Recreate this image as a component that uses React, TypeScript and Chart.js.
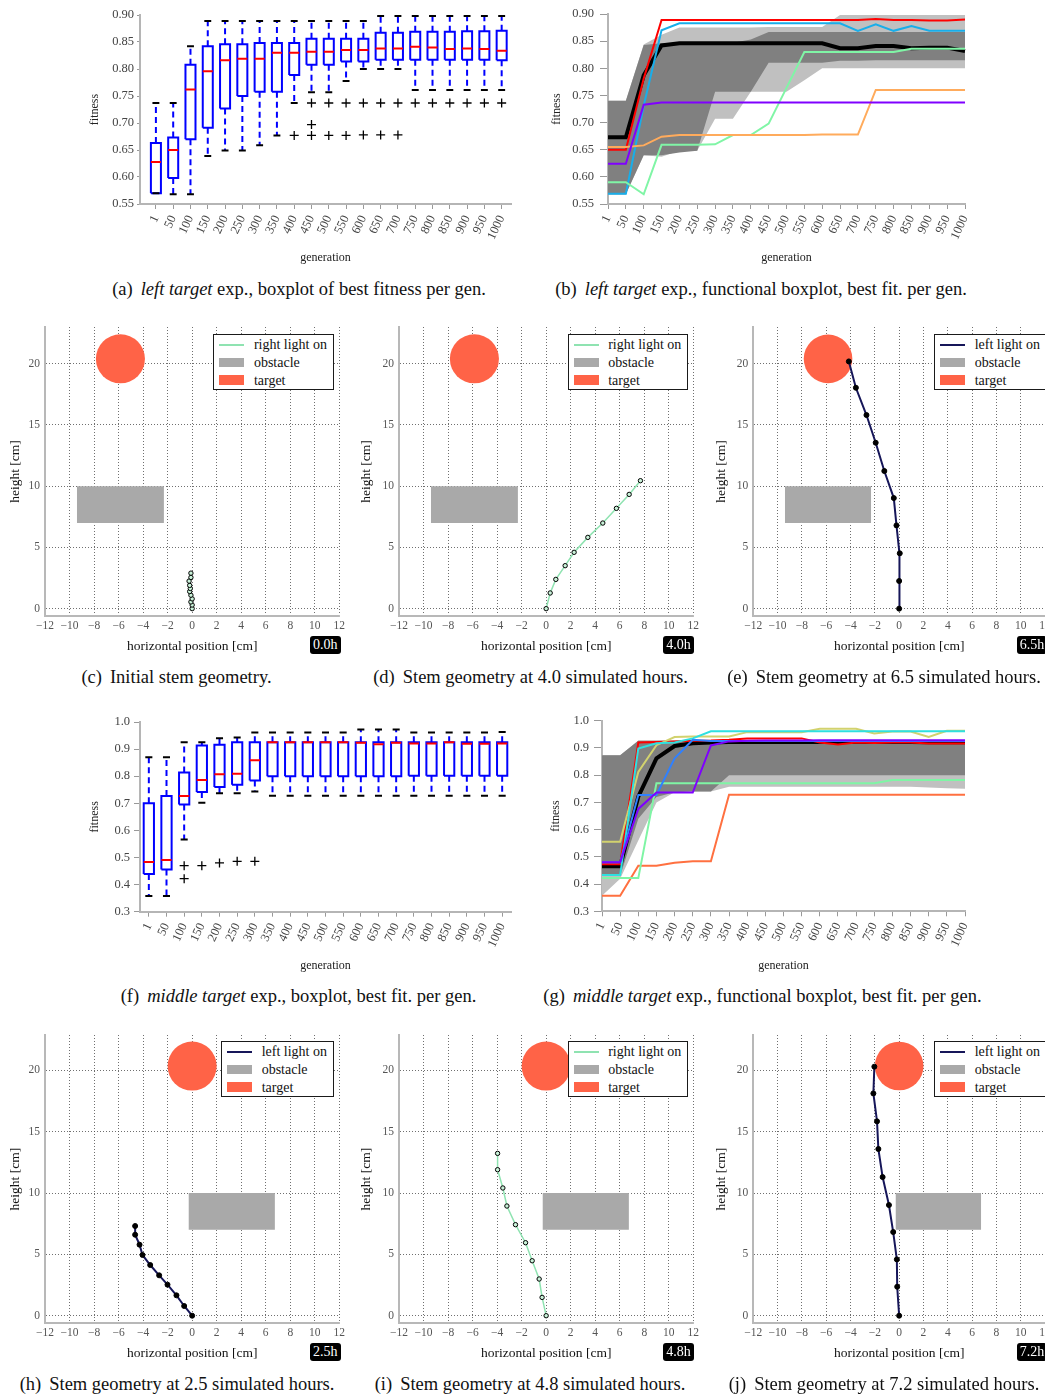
import React, { useEffect, useRef } from "react";
import { Chart, registerables } from "chart.js";

Chart.register(...registerables);

const SERIF = "'Liberation Serif', 'Times New Roman', serif";
Chart.defaults.font.family = SERIF;

// ---------------- shared categories ----------------
const GENERATIONS = [1, 50, 100, 150, 200, 250, 300, 350, 400, 450, 500, 550, 600, 650, 700, 750, 800, 850, 900, 950, 1000];
const GEN_LABELS = GENERATIONS.map(String);

// ---------------- (a) left target boxplot ----------------
const A_Q1 = [0.570, 0.598, 0.670, 0.691, 0.727, 0.750, 0.758, 0.758, 0.789, 0.808, 0.808, 0.814, 0.814, 0.817, 0.817, 0.817, 0.817, 0.817, 0.817, 0.817, 0.816];
const A_Q3 = [0.663, 0.673, 0.808, 0.842, 0.846, 0.846, 0.848, 0.848, 0.848, 0.856, 0.856, 0.856, 0.856, 0.867, 0.867, 0.869, 0.869, 0.869, 0.870, 0.870, 0.871];
const A_MED = [0.628, 0.650, 0.762, 0.796, 0.816, 0.819, 0.819, 0.830, 0.830, 0.832, 0.832, 0.835, 0.835, 0.838, 0.838, 0.841, 0.840, 0.837, 0.838, 0.837, 0.834];
const A_HI = [0.737, 0.737, 0.842, 0.889, 0.889, 0.889, 0.889, 0.889, 0.889, 0.889, 0.889, 0.889, 0.889, 0.898, 0.898, 0.898, 0.898, 0.898, 0.898, 0.898, 0.898];
const A_LO = [0.570, 0.568, 0.568, 0.639, 0.649, 0.649, 0.659, 0.677, 0.737, 0.757, 0.757, 0.778, 0.800, 0.800, 0.800, 0.761, 0.761, 0.761, 0.761, 0.761, 0.761];
const A_OUT_IDX = [8, 9, 9, 9, 10, 10, 11, 11, 12, 12, 13, 13, 14, 14, 15, 16, 17, 18, 19, 20];
const A_OUT_VAL = [0.677, 0.737, 0.697, 0.677, 0.737, 0.677, 0.737, 0.677, 0.737, 0.678, 0.737, 0.678, 0.737, 0.678, 0.737, 0.737, 0.737, 0.737, 0.737, 0.737];

// ---------------- (b) left target functional boxplot ----------------
const B_LIGHT_UP = [0.740, 0.740, 0.844, 0.862, 0.875, 0.875, 0.875, 0.875, 0.875, 0.876, 0.876, 0.876, 0.876, 0.898, 0.898, 0.898, 0.898, 0.898, 0.898, 0.898, 0.898];
const B_LIGHT_LO = [0.568, 0.568, 0.640, 0.637, 0.648, 0.648, 0.707, 0.707, 0.757, 0.757, 0.757, 0.778, 0.800, 0.800, 0.800, 0.800, 0.800, 0.800, 0.800, 0.800, 0.800];
const B_DARK_UP = [0.740, 0.740, 0.843, 0.846, 0.847, 0.847, 0.847, 0.847, 0.853, 0.867, 0.867, 0.867, 0.867, 0.867, 0.867, 0.867, 0.867, 0.867, 0.867, 0.867, 0.867];
const B_DARK_LO = [0.568, 0.568, 0.640, 0.640, 0.645, 0.648, 0.757, 0.757, 0.757, 0.810, 0.810, 0.810, 0.810, 0.814, 0.814, 0.815, 0.815, 0.815, 0.815, 0.815, 0.815];
const B_MEDIAN = [0.673, 0.673, 0.787, 0.842, 0.846, 0.846, 0.846, 0.846, 0.846, 0.846, 0.846, 0.846, 0.846, 0.837, 0.837, 0.841, 0.841, 0.837, 0.838, 0.838, 0.832];
const B_RED = [0.650, 0.650, 0.781, 0.889, 0.889, 0.889, 0.889, 0.889, 0.889, 0.889, 0.889, 0.889, 0.889, 0.889, 0.889, 0.891, 0.889, 0.889, 0.888, 0.888, 0.890];
const B_BLUE = [0.569, 0.569, 0.731, 0.870, 0.883, 0.883, 0.883, 0.883, 0.883, 0.883, 0.883, 0.883, 0.883, 0.883, 0.869, 0.881, 0.869, 0.878, 0.869, 0.869, 0.869];
const B_GREEN = [0.590, 0.590, 0.568, 0.659, 0.659, 0.659, 0.660, 0.677, 0.677, 0.698, 0.764, 0.830, 0.830, 0.830, 0.830, 0.830, 0.830, 0.836, 0.836, 0.836, 0.836];
const B_ORANGE = [0.655, 0.655, 0.658, 0.674, 0.677, 0.677, 0.677, 0.677, 0.677, 0.677, 0.677, 0.677, 0.678, 0.678, 0.678, 0.760, 0.760, 0.760, 0.760, 0.760, 0.760];
const B_PURPLE = [0.624, 0.624, 0.733, 0.737, 0.737, 0.737, 0.737, 0.737, 0.737, 0.737, 0.737, 0.737, 0.737, 0.737, 0.737, 0.737, 0.737, 0.737, 0.737, 0.737, 0.737];

// ---------------- (f) middle target boxplot ----------------
const F_Q1 = [0.439, 0.456, 0.696, 0.742, 0.760, 0.768, 0.784, 0.800, 0.800, 0.800, 0.800, 0.800, 0.800, 0.800, 0.800, 0.802, 0.802, 0.802, 0.802, 0.802, 0.802];
const F_Q3 = [0.700, 0.727, 0.814, 0.913, 0.916, 0.925, 0.925, 0.925, 0.925, 0.925, 0.925, 0.925, 0.925, 0.925, 0.925, 0.925, 0.925, 0.925, 0.925, 0.925, 0.925];
const F_MED = [0.483, 0.491, 0.727, 0.786, 0.807, 0.809, 0.859, 0.925, 0.925, 0.925, 0.925, 0.925, 0.923, 0.918, 0.923, 0.921, 0.921, 0.925, 0.920, 0.920, 0.921];
const F_HI = [0.870, 0.870, 0.925, 0.925, 0.940, 0.943, 0.961, 0.961, 0.961, 0.961, 0.961, 0.961, 0.972, 0.972, 0.972, 0.961, 0.961, 0.961, 0.961, 0.961, 0.963];
const F_LO = [0.358, 0.358, 0.566, 0.702, 0.737, 0.737, 0.744, 0.728, 0.728, 0.728, 0.728, 0.728, 0.728, 0.728, 0.728, 0.728, 0.728, 0.728, 0.728, 0.728, 0.728];
const F_OUT_IDX = [2, 2, 3, 4, 5, 6];
const F_OUT_VAL = [0.470, 0.422, 0.470, 0.480, 0.486, 0.486];

// ---------------- (g) middle target functional boxplot ----------------
const G_LIGHT_UP = [0.873, 0.873, 0.927, 0.927, 0.927, 0.927, 0.927, 0.927, 0.927, 0.927, 0.927, 0.927, 0.927, 0.927, 0.927, 0.927, 0.927, 0.927, 0.927, 0.927, 0.927];
const G_LIGHT_LO = [0.357, 0.420, 0.560, 0.700, 0.737, 0.740, 0.740, 0.757, 0.757, 0.757, 0.757, 0.757, 0.757, 0.757, 0.757, 0.757, 0.757, 0.757, 0.755, 0.752, 0.750];
const G_DARK_UP = [0.873, 0.873, 0.926, 0.926, 0.926, 0.926, 0.926, 0.926, 0.926, 0.926, 0.926, 0.926, 0.926, 0.926, 0.926, 0.926, 0.926, 0.926, 0.926, 0.926, 0.926];
const G_DARK_LO = [0.430, 0.430, 0.640, 0.720, 0.737, 0.740, 0.740, 0.800, 0.800, 0.800, 0.800, 0.800, 0.800, 0.800, 0.800, 0.800, 0.800, 0.800, 0.800, 0.800, 0.800];
const G_MEDIAN = [0.465, 0.465, 0.721, 0.862, 0.907, 0.917, 0.920, 0.922, 0.922, 0.922, 0.922, 0.922, 0.922, 0.922, 0.922, 0.922, 0.922, 0.922, 0.921, 0.921, 0.921];
const G_RED = [0.473, 0.473, 0.920, 0.922, 0.924, 0.926, 0.927, 0.930, 0.935, 0.935, 0.935, 0.935, 0.920, 0.913, 0.920, 0.918, 0.920, 0.920, 0.916, 0.916, 0.916];
const G_CYAN = [0.433, 0.433, 0.898, 0.917, 0.920, 0.935, 0.961, 0.961, 0.961, 0.961, 0.961, 0.961, 0.961, 0.961, 0.961, 0.961, 0.961, 0.961, 0.961, 0.961, 0.961];
const G_KHAKI = [0.555, 0.555, 0.812, 0.910, 0.940, 0.942, 0.942, 0.942, 0.958, 0.958, 0.958, 0.958, 0.970, 0.970, 0.970, 0.953, 0.960, 0.960, 0.940, 0.963, 0.963];
const G_BLUE = [0.480, 0.480, 0.727, 0.727, 0.862, 0.930, 0.925, 0.925, 0.925, 0.925, 0.925, 0.925, 0.925, 0.925, 0.925, 0.925, 0.925, 0.925, 0.925, 0.925, 0.925];
const G_PURPLE = [0.480, 0.480, 0.676, 0.736, 0.736, 0.736, 0.909, 0.924, 0.926, 0.927, 0.927, 0.927, 0.928, 0.928, 0.928, 0.928, 0.928, 0.928, 0.928, 0.928, 0.928];
const G_GREEN = [0.422, 0.422, 0.422, 0.770, 0.770, 0.770, 0.770, 0.770, 0.770, 0.770, 0.770, 0.770, 0.770, 0.770, 0.770, 0.770, 0.782, 0.782, 0.782, 0.782, 0.782];
const G_ORANGE = [0.357, 0.357, 0.467, 0.467, 0.478, 0.484, 0.484, 0.728, 0.728, 0.728, 0.728, 0.728, 0.728, 0.728, 0.728, 0.728, 0.728, 0.728, 0.728, 0.728, 0.728];

// ---------------- stem geometries (cm) ----------------
const C_X = [0, 0, -0.1, 0, -0.1, -0.2, -0.15, -0.2, -0.25, -0.1, -0.1];
const C_Y = [0, 0.3, 0.55, 0.8, 1.1, 1.4, 1.65, 1.9, 2.25, 2.55, 2.9];
const D_X = [0, 0.33, 0.79, 1.55, 2.28, 3.40, 4.62, 5.73, 6.77, 7.69];
const D_Y = [0, 1.28, 2.39, 3.51, 4.60, 5.82, 6.99, 8.19, 9.33, 10.45];
const E_X = [0, 0, 0.05, -0.22, -0.44, -1.22, -1.93, -2.69, -3.56, -4.14];
const E_Y = [0, 2.26, 4.52, 6.80, 9.03, 11.24, 13.55, 15.81, 18.04, 20.19];
const H_X = [0, -0.65, -1.28, -2.01, -2.69, -3.42, -4.05, -4.29, -4.65, -4.65];
const H_Y = [0, 0.79, 1.66, 2.53, 3.29, 4.13, 4.95, 5.79, 6.60, 7.31];
const I_X = [0, -0.33, -0.57, -1.14, -1.68, -2.50, -3.20, -3.53, -3.96, -3.96];
const I_Y = [0, 1.49, 2.99, 4.48, 5.95, 7.42, 8.94, 10.41, 11.90, 13.23];
const J_X = [0, -0.16, -0.19, -0.49, -0.84, -1.36, -1.71, -1.82, -2.12, -2.04];
const J_Y = [0, 2.36, 4.59, 6.82, 9.02, 11.30, 13.59, 15.84, 18.12, 20.30];

const TARGET_LEFT = { x: -5.85, y: 20.4 };
const TARGET_MIDDLE = { x: 0, y: 20.35 };
const TARGET_RADIUS = 2.0;
const OBSTACLE_LEFT_X = [-9.4, -2.3];
const OBSTACLE_MIDDLE_X = [-0.3, 6.75];
const OBSTACLE_Y = [7, 10];

const TARGET_COLOR = "#ff6347";
const OBSTACLE_COLOR = "#a9a9a9";
const RIGHT_LIGHT_COLOR = "#8fe3b1";
const LEFT_LIGHT_COLOR = "#161659";

// ---------------- helpers ----------------
const minusFmt = (v: number) => (v < 0 ? "\u2212" + Math.abs(v) : String(v));

const zeroPad = (s: any) => {
  s.paddingTop = 0;
  s.paddingBottom = 0;
  s.paddingLeft = 0;
  s.paddingRight = 0;
};

function ChartCanvas({ left, top, width, height, make }: any) {
  const ref = useRef<HTMLCanvasElement | null>(null);
  useEffect(() => {
    if (!ref.current) return;
    const chart = new Chart(ref.current, make());
    return () => chart.destroy();
  }, []);
  return (
    <canvas
      ref={ref}
      width={width}
      height={height}
      style={{ position: "absolute", left, top, width, height }}
    />
  );
}

function fitnessY(min: number, max: number, step: number, dec: number, width: number, tickLen: number, tickPad: number, titlePad: number) {
  return {
    type: "linear",
    min,
    max,
    afterFit: (s: any) => {
      s.width = width;
      zeroPad(s);
    },
    ticks: {
      stepSize: step,
      callback: (v: any) => Number(v).toFixed(dec),
      font: { size: 12.5 },
      color: "#444",
      padding: tickPad,
    },
    grid: { display: true, drawOnChartArea: false, drawTicks: true, tickLength: tickLen, tickColor: "#999", color: "#999" },
    border: { display: true, color: "#b5b5b5", width: 2 },
    title: { display: true, text: "fitness", font: { size: 12 }, color: "#222", padding: { top: titlePad, bottom: 0 } },
  };
}

function generationX(base: any, height: number, titlePad: number) {
  return {
    ...base,
    afterFit: (s: any) => {
      s.height = height;
      zeroPad(s);
    },
    ticks: {
      autoSkip: false,
      minRotation: 65,
      maxRotation: 65,
      font: { size: 12.5 },
      color: "#444",
      padding: 4,
      ...(base.ticks || {}),
    },
    grid: { display: true, drawOnChartArea: false, drawTicks: true, tickLength: 5, tickColor: "#999", color: "#999" },
    border: { display: true, color: "#b5b5b5", width: 2 },
    title: { display: true, text: "generation", font: { size: 12 }, color: "#222", padding: { top: 0, bottom: titlePad } },
  };
}

function boxplotConfig(p: any) {
  const W = 0.29;
  const C = 0.2;
  const boxes = p.q1.flatMap((q1: number, i: number) => [
    { x: i - W, y: q1 },
    { x: i + W, y: q1 },
    { x: i + W, y: p.q3[i] },
    { x: i - W, y: p.q3[i] },
    { x: i - W, y: q1 },
    { x: i, y: null },
  ]);
  const medians = p.med.flatMap((m: number, i: number) => [
    { x: i - W, y: m },
    { x: i + W, y: m },
    { x: i, y: null },
  ]);
  const whiskers = p.q1.flatMap((q1: number, i: number) => [
    { x: i, y: p.q3[i] },
    { x: i, y: p.hi[i] },
    { x: i, y: null },
    { x: i, y: q1 },
    { x: i, y: p.lo[i] },
    { x: i, y: null },
  ]);
  const caps = p.hi.flatMap((h: number, i: number) => [
    { x: i - C, y: h },
    { x: i + C, y: h },
    { x: i, y: null },
    { x: i - C, y: p.lo[i] },
    { x: i + C, y: p.lo[i] },
    { x: i, y: null },
  ]);
  const outliers = p.outIdx.map((i: number, k: number) => ({ x: i, y: p.outVal[k] }));
  const seg = (data: any[], color: string, width: number, dash: number[] = []) => ({
    type: "line",
    data,
    borderColor: color,
    borderWidth: width,
    borderDash: dash,
    pointRadius: 0,
    fill: false,
    spanGaps: false,
    tension: 0,
  });
  return {
    type: "scatter",
    data: {
      datasets: [
        {
          type: "scatter",
          data: outliers,
          pointStyle: "cross",
          pointRadius: 4.5,
          pointBorderColor: "#000",
          pointBorderWidth: 1.3,
          pointBackgroundColor: "#000",
        },
        seg(medians, "#ff0000", 2),
        seg(caps, "#000000", 2),
        seg(boxes, "#0000ff", 2),
        seg(whiskers, "#0000ff", 2, [6, 4]),
      ],
    },
    options: {
      animation: false,
      responsive: false,
      devicePixelRatio: 1,
      events: [],
      layout: { padding: { top: p.padTop, right: p.padRight, bottom: 0, left: 0 } },
      plugins: { legend: { display: false }, tooltip: { enabled: false } },
      scales: {
        x: generationX(
          {
            type: "linear",
            min: p.xMin,
            max: p.xMax,
            bounds: "data",
            afterBuildTicks: (s: any) => {
              s.ticks = GENERATIONS.map((_, i) => ({ value: i }));
            },
            ticks: { callback: (v: any) => GEN_LABELS[Math.round(Number(v))] ?? "" },
          },
          p.xHeight,
          p.xTitlePad
        ),
        y: fitnessY(p.yMin, p.yMax, p.yStep, p.yDec, p.yWidth, p.yTickLen, p.yTickPad, p.yTitlePad),
      },
    },
  };
}

function functionalConfig(p: any) {
  const line = (data: number[], color: string, width: number) => ({
    data,
    borderColor: color,
    borderWidth: width,
    pointRadius: 0,
    fill: false,
    tension: 0,
  });
  const band = (data: number[], fill: any, color: string) => ({
    data,
    borderWidth: 0,
    borderColor: "rgba(0,0,0,0)",
    pointRadius: 0,
    fill,
    backgroundColor: color,
    tension: 0,
  });
  return {
    type: "line",
    data: {
      labels: GEN_LABELS,
      datasets: [
        ...p.lines.map((l: any) => line(l.data, l.color, 2)),
        line(p.median, "#000000", 4),
        band(p.darkUp, "+1", "#808080"),
        band(p.darkLo, false, "#808080"),
        band(p.lightUp, "+1", "#c0c0c0"),
        band(p.lightLo, false, "#c0c0c0"),
      ],
    },
    options: {
      animation: false,
      responsive: false,
      devicePixelRatio: 1,
      events: [],
      layout: { padding: { top: p.padTop, right: p.padRight, bottom: 0, left: 0 } },
      plugins: { legend: { display: false }, tooltip: { enabled: false } },
      scales: {
        x: generationX({ type: "category", offset: false }, p.xHeight, p.xTitlePad),
        y: fitnessY(p.yMin, p.yMax, p.yStep, p.yDec, p.yWidth, p.yTickLen, p.yTickPad, p.yTitlePad),
      },
    },
  };
}

function geometryConfig(g: any) {
  const right = g.light === "right";
  const stem = g.xs.map((x: number, i: number) => ({ x, y: g.ys[i] }));
  return {
    type: "scatter",
    data: {
      datasets: [
        {
          type: "line",
          label: right ? "right light on" : "left light on",
          data: stem,
          borderColor: right ? RIGHT_LIGHT_COLOR : LEFT_LIGHT_COLOR,
          borderWidth: right ? 1.5 : 2,
          pointRadius: right ? 2.2 : 2.5,
          pointBackgroundColor: right ? "#c9f2d9" : "#000",
          pointBorderColor: "#000",
          pointBorderWidth: 1,
          fill: false,
          tension: 0,
        },
        {
          type: "scatter",
          label: "target",
          data: [g.target],
          pointRadius: (ctx: any) => {
            const s = ctx.chart.scales.x;
            return s ? Math.abs(s.getPixelForValue(TARGET_RADIUS) - s.getPixelForValue(0)) : 0;
          },
          pointBackgroundColor: TARGET_COLOR,
          pointBorderColor: TARGET_COLOR,
          pointBorderWidth: 0,
        },
        {
          type: "line",
          label: "obstacle",
          data: [
            { x: g.obstacleX[0], y: OBSTACLE_Y[1] },
            { x: g.obstacleX[1], y: OBSTACLE_Y[1] },
          ],
          fill: { value: OBSTACLE_Y[0] },
          backgroundColor: OBSTACLE_COLOR,
          borderWidth: 0,
          pointRadius: 0,
          tension: 0,
        },
      ],
    },
    options: {
      animation: false,
      responsive: false,
      devicePixelRatio: 1,
      events: [],
      layout: { padding: { top: g.padTop, right: g.padRight, bottom: 0, left: 0 } },
      plugins: { legend: { display: false }, tooltip: { enabled: false } },
      scales: {
        x: {
          type: "linear",
          min: -12,
          max: 12,
          z: 1,
          afterFit: (s: any) => {
            s.height = g.xHeight;
            zeroPad(s);
          },
          ticks: { stepSize: 2, includeBounds: false, callback: (v: any) => minusFmt(Number(v)), font: { size: 11.5 }, color: "#555", padding: 3 },
          grid: { display: true, drawOnChartArea: true, drawTicks: false, color: "#4a4a4a", lineWidth: 0.8 },
          border: { display: true, color: "#b8b8b8", width: 2, dash: [1, 2] },
          title: { display: true, text: "horizontal position [cm]", font: { size: 13.5 }, color: "#111", padding: { top: 0, bottom: g.xTitlePad } },
        },
        y: {
          type: "linear",
          min: g.yMin,
          max: g.yMax,
          z: 1,
          afterFit: (s: any) => {
            s.width = g.yWidth;
            zeroPad(s);
          },
          ticks: { stepSize: 5, includeBounds: false, font: { size: 11.5 }, color: "#555", padding: 5 },
          grid: { display: true, drawOnChartArea: true, drawTicks: false, color: "#4a4a4a", lineWidth: 0.8 },
          border: { display: true, color: "#b8b8b8", width: 2, dash: [1, 2] },
          title: { display: true, text: "height [cm]", font: { size: 13.5 }, color: "#111", padding: { top: g.yTitlePad, bottom: 0 } },
        },
      },
    },
  };
}

function GeoLegend({ top, rightX, label, color, thick }: any) {
  const rows = [
    { text: label, h: thick ? 2 : 1.5, c: color },
    { text: "obstacle", h: 9.5, c: OBSTACLE_COLOR },
    { text: "target", h: 9.5, c: TARGET_COLOR },
  ];
  return (
    <div
      style={{
        position: "absolute",
        top,
        right: 1045 - rightX,
        height: 56,
        boxSizing: "border-box",
        border: "1.5px solid #1a1a1a",
        background: "#fff",
        padding: "1px 6px 0 5px",
        whiteSpace: "nowrap",
      }}
    >
      {rows.map((r) => (
        <div key={r.text} style={{ display: "flex", alignItems: "center", height: 17.7 }}>
          <div style={{ width: 25, height: r.h, background: r.c, marginRight: 9.5, flex: "none" }} />
          <span style={{ fontSize: 14, lineHeight: "17px", color: "#111" }}>{r.text}</span>
        </div>
      ))}
    </div>
  );
}

function Badge({ left, top, text }: any) {
  return (
    <div
      style={{
        position: "absolute",
        left,
        top,
        height: 18,
        padding: "0 3px",
        background: "#000",
        color: "#fff",
        borderRadius: 3,
        fontSize: 14,
        lineHeight: "18px",
        whiteSpace: "nowrap",
      }}
    >
      {text}
    </div>
  );
}

function Caption({ cx, cy, tag, italic, rest }: any) {
  return (
    <div
      style={{
        position: "absolute",
        left: cx,
        top: cy - 11,
        transform: "translateX(-50%)",
        whiteSpace: "nowrap",
        fontSize: 18.5,
        lineHeight: "22px",
        color: "#111",
      }}
    >
      <span style={{ marginRight: 8 }}>{tag}</span>
      {italic ? <i>{italic}</i> : null}
      {rest}
    </div>
  );
}

const GEO_ROW1 = { top: 320, yMin: -0.6, yMax: 23, padTop: 7, xHeight: 44, xTitlePad: 5.2 };
const GEO_ROW2 = { top: 1030, yMin: -0.62, yMax: 22.88, padTop: 5, xHeight: 46.7, xTitlePad: 8.6 };
const GEO_COL = [
  { left: 0, yWidth: 45, padRight: 10.7, yTitlePad: 6.9 },
  { left: 350, yWidth: 49, padRight: 6.7, yTitlePad: 8.2 },
  { left: 700, yWidth: 53.3, padRight: 2.4, yTitlePad: 13.6 },
];

function Geo({ row, col, xs, ys, light, target, obstacleX }: any) {
  const r = row === 1 ? GEO_ROW1 : GEO_ROW2;
  const c = GEO_COL[col];
  return (
    <ChartCanvas
      left={c.left}
      top={r.top}
      width={350}
      height={340}
      make={() =>
        geometryConfig({
          xs,
          ys,
          light,
          target,
          obstacleX,
          yMin: r.yMin,
          yMax: r.yMax,
          padTop: r.padTop,
          padRight: c.padRight,
          xHeight: r.xHeight,
          xTitlePad: r.xTitlePad,
          yWidth: c.yWidth,
          yTitlePad: c.yTitlePad,
        })
      }
    />
  );
}

export default function App() {
  return (
    <div
      style={{
        position: "absolute",
        left: 0,
        top: 0,
        width: 1045,
        height: 1397,
        overflow: "hidden",
        background: "#fff",
        fontFamily: SERIF,
      }}
    >
      {/* (a) */}
      <ChartCanvas
        left={80}
        top={0}
        width={450}
        height={270}
        make={() =>
          boxplotConfig({
            q1: A_Q1, q3: A_Q3, med: A_MED, hi: A_HI, lo: A_LO, outIdx: A_OUT_IDX, outVal: A_OUT_VAL,
            xMin: -0.92, xMax: 20.54,
            yMin: 0.55, yMax: 0.9, yStep: 0.05, yDec: 2,
            padTop: 15, padRight: 19, xHeight: 66, xTitlePad: 4.8,
            yWidth: 60, yTickLen: 3, yTickPad: 3, yTitlePad: 7.8,
          })
        }
      />
      {/* (b) */}
      <ChartCanvas
        left={540}
        top={0}
        width={505}
        height={270}
        make={() =>
          functionalConfig({
            lines: [
              { data: B_PURPLE, color: "#8000ff" },
              { data: B_ORANGE, color: "#ffab5c" },
              { data: B_GREEN, color: "#80f5a6" },
              { data: B_BLUE, color: "#18aeea" },
              { data: B_RED, color: "#ff0000" },
            ],
            median: B_MEDIAN, darkUp: B_DARK_UP, darkLo: B_DARK_LO, lightUp: B_LIGHT_UP, lightLo: B_LIGHT_LO,
            yMin: 0.55, yMax: 0.9, yStep: 0.05, yDec: 2,
            padTop: 14, padRight: 80, xHeight: 66, xTitlePad: 4.8,
            yWidth: 68, yTickLen: 8, yTickPad: 6, yTitlePad: 9.8,
          })
        }
      />
      {/* (f) */}
      <ChartCanvas
        left={80}
        top={710}
        width={450}
        height={270}
        make={() =>
          boxplotConfig({
            q1: F_Q1, q3: F_Q3, med: F_MED, hi: F_HI, lo: F_LO, outIdx: F_OUT_IDX, outVal: F_OUT_VAL,
            xMin: -0.5, xMax: 20.5,
            yMin: 0.3, yMax: 1.0, yStep: 0.1, yDec: 1,
            padTop: 12, padRight: 19, xHeight: 68.3, xTitlePad: 6.8,
            yWidth: 60, yTickLen: 6, yTickPad: 4, yTitlePad: 7.8,
          })
        }
      />
      {/* (g) */}
      <ChartCanvas
        left={540}
        top={710}
        width={505}
        height={270}
        make={() =>
          functionalConfig({
            lines: [
              { data: G_PURPLE, color: "#7f00ff" },
              { data: G_BLUE, color: "#2f80ff" },
              { data: G_CYAN, color: "#2ee0e0" },
              { data: G_KHAKI, color: "#d2d26e" },
              { data: G_RED, color: "#ff0000" },
              { data: G_GREEN, color: "#7ff5a5" },
              { data: G_ORANGE, color: "#ff7040" },
            ],
            median: G_MEDIAN, darkUp: G_DARK_UP, darkLo: G_DARK_LO, lightUp: G_LIGHT_UP, lightLo: G_LIGHT_LO,
            yMin: 0.3, yMax: 1.0, yStep: 0.1, yDec: 1,
            padTop: 10.7, padRight: 80, xHeight: 68.7, xTitlePad: 6.8,
            yWidth: 62, yTickLen: 8, yTickPad: 5, yTitlePad: 8.8,
          })
        }
      />

      {/* geometry plots */}
      <Geo row={1} col={0} xs={C_X} ys={C_Y} light="right" target={TARGET_LEFT} obstacleX={OBSTACLE_LEFT_X} />
      <Geo row={1} col={1} xs={D_X} ys={D_Y} light="right" target={TARGET_LEFT} obstacleX={OBSTACLE_LEFT_X} />
      <Geo row={1} col={2} xs={E_X} ys={E_Y} light="left" target={TARGET_LEFT} obstacleX={OBSTACLE_LEFT_X} />
      <Geo row={2} col={0} xs={H_X} ys={H_Y} light="left" target={TARGET_MIDDLE} obstacleX={OBSTACLE_MIDDLE_X} />
      <Geo row={2} col={1} xs={I_X} ys={I_Y} light="right" target={TARGET_MIDDLE} obstacleX={OBSTACLE_MIDDLE_X} />
      <Geo row={2} col={2} xs={J_X} ys={J_Y} light="left" target={TARGET_MIDDLE} obstacleX={OBSTACLE_MIDDLE_X} />

      <GeoLegend top={334} rightX={334} label="right light on" color={RIGHT_LIGHT_COLOR} />
      <GeoLegend top={334} rightX={688.3} label="right light on" color={RIGHT_LIGHT_COLOR} />
      <GeoLegend top={334} rightX={1047} label="left light on" color={LEFT_LIGHT_COLOR} thick />
      <GeoLegend top={1041} rightX={334} label="left light on" color={LEFT_LIGHT_COLOR} thick />
      <GeoLegend top={1041} rightX={688.3} label="right light on" color={RIGHT_LIGHT_COLOR} />
      <GeoLegend top={1041} rightX={1047} label="left light on" color={LEFT_LIGHT_COLOR} thick />

      <Badge left={310} top={636} text="0.0h" />
      <Badge left={663.3} top={636} text="4.0h" />
      <Badge left={1016.7} top={636} text="6.5h" />
      <Badge left={310} top={1343} text="2.5h" />
      <Badge left={663.3} top={1343} text="4.8h" />
      <Badge left={1016.7} top={1343} text="7.2h" />

      <Caption cx={299} cy={289} tag="(a)" italic="left target" rest=" exp., boxplot of best fitness per gen." />
      <Caption cx={761} cy={289} tag="(b)" italic="left target" rest=" exp., functional boxplot, best fit. per gen." />
      <Caption cx={176.5} cy={677} tag="(c)" rest="Initial stem geometry." />
      <Caption cx={530.5} cy={677} tag="(d)" rest="Stem geometry at 4.0 simulated hours." />
      <Caption cx={884} cy={677} tag="(e)" rest="Stem geometry at 6.5 simulated hours." />
      <Caption cx={298.5} cy={996} tag="(f)" italic="middle target" rest=" exp., boxplot, best fit. per gen." />
      <Caption cx={762.5} cy={996} tag="(g)" italic="middle target" rest=" exp., functional boxplot, best fit. per gen." />
      <Caption cx={177} cy={1384} tag="(h)" rest="Stem geometry at 2.5 simulated hours." />
      <Caption cx={530} cy={1384} tag="(i)" rest="Stem geometry at 4.8 simulated hours." />
      <Caption cx={884} cy={1384} tag="(j)" rest="Stem geometry at 7.2 simulated hours." />
    </div>
  );
}
